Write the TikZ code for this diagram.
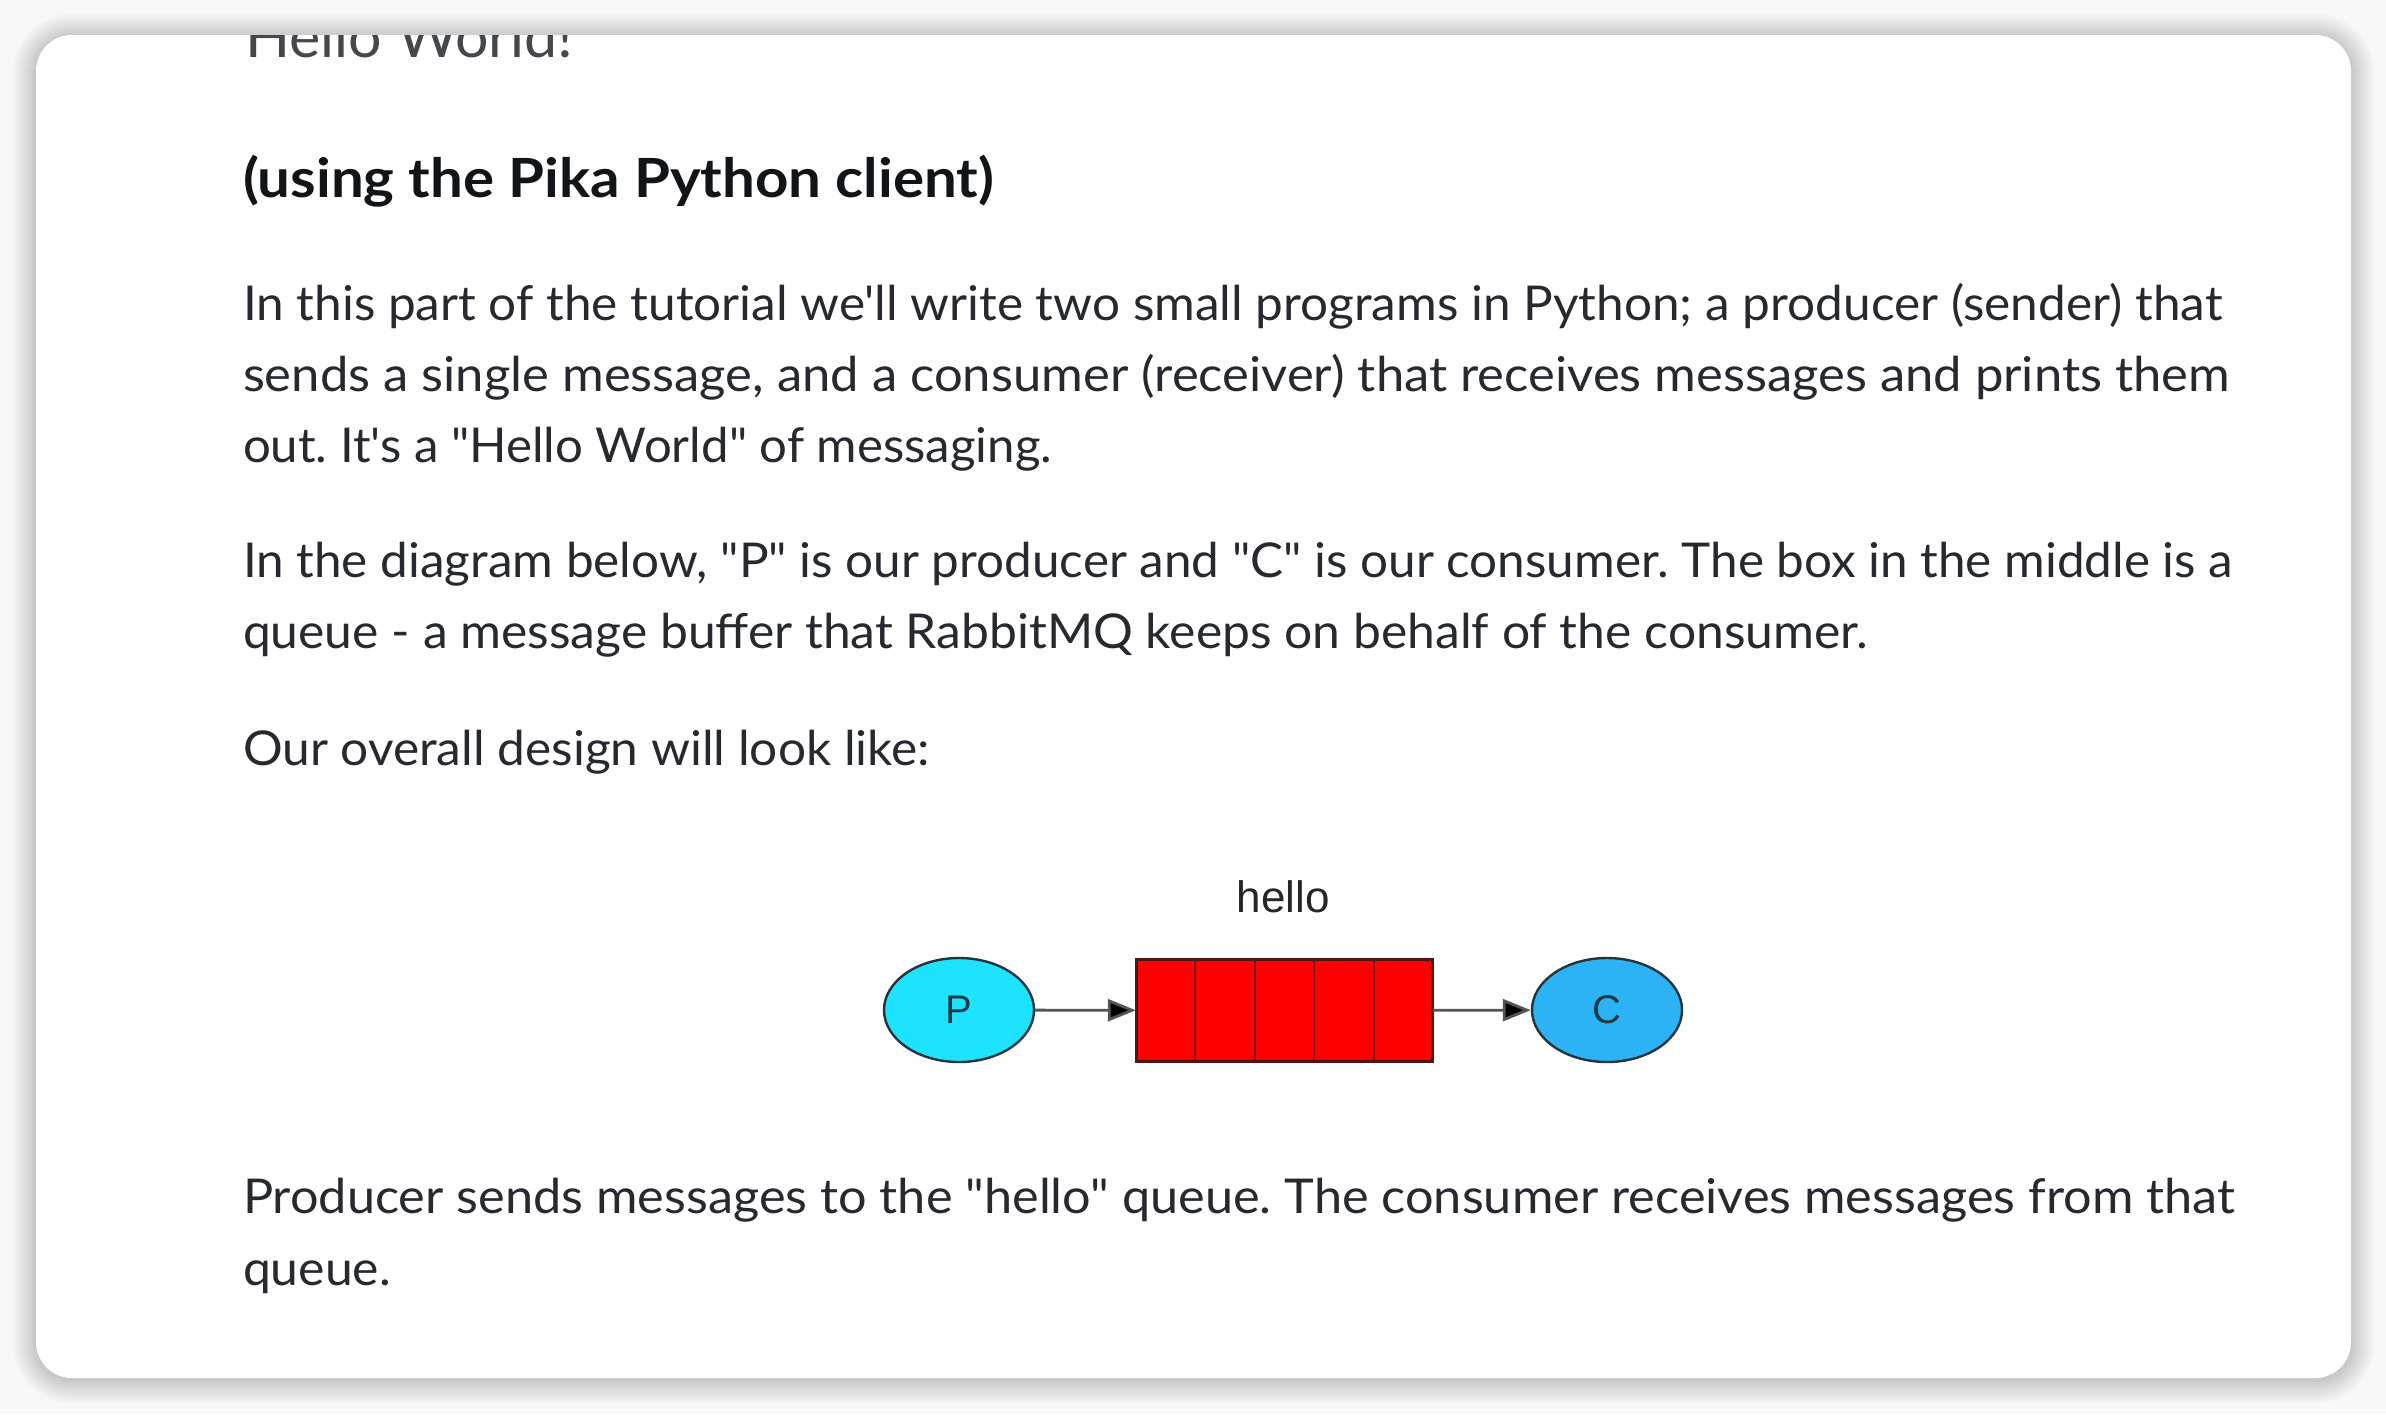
\documentclass[tikz,border=0pt]{standalone}
\usepackage{fontspec}
\setmainfont{Lato}[Ligatures=TeXOff]
\newfontfamily\arialf{Liberation Sans}
\usetikzlibrary{arrows.meta,shapes.geometric,calc}
\definecolor{pagebg}{HTML}{F8F8F8}
\definecolor{bodytext}{HTML}{262A2E}
\definecolor{headtext}{HTML}{121517}
\definecolor{titletext}{HTML}{44484C}
\definecolor{pfill}{HTML}{1EE3FE}
\definecolor{cfill}{HTML}{2BB3F5}
\definecolor{nodeborder}{HTML}{24343C}
\definecolor{qfill}{HTML}{FF0000}
\definecolor{qborder}{HTML}{4E1515}
\definecolor{qcell}{HTML}{7A0808}
\definecolor{edgegray}{HTML}{555555}
\definecolor{lettercol}{HTML}{1F3A46}
\newcommand\fitline[2]{\resizebox{#1}{\height}{#2}}
\frenchspacing
\begin{document}
\begin{tikzpicture}[x=0.5pt,y=-0.5pt,
  txt/.style={anchor=base west, inner sep=0pt, outer sep=0pt},
  bodyline/.style={txt, text=bodytext, font=\fontsize{24}{28}\selectfont},
  headline/.style={txt, text=headtext, font=\fontsize{27}{32}\selectfont\bfseries},
  titleline/.style={txt, text=titletext, font=\fontsize{29}{34}\selectfont},
  actor/.style={ellipse, draw=nodeborder, line width=1.2pt, minimum width=75pt, minimum height=52pt, inner sep=0pt, text=lettercol, font=\arialf\fontsize{20}{23}\selectfont},
  queuebox/.style={rectangle, draw=qborder, line width=1.1pt, fill=qfill, minimum width=147.5pt, minimum height=50.5pt, inner sep=0pt},
  celldiv/.style={draw=qcell, line width=1.1pt},
  edge/.style={draw=edgegray, line width=1.4pt, -{Triangle[length=14pt,width=11pt,fill=black]}},
  cardpath/.style={rounded corners=18pt}
]
\useasboundingbox (0,0) rectangle (2386,1414);
\fill[pagebg] (0,0) rectangle (2386,1414);
% shadow
\foreach \k in {1,...,24}{
  \draw[black, opacity=0.006, line width=\k pt, cardpath] (36,37) rectangle (2351,1380);
}
\fill[white, cardpath] (36,35) rectangle (2351,1378);
\begin{scope}
\clip[cardpath] (36,35) rectangle (2351,1378);
\node[titleline] (title) at (245,57) {\fitline{164pt}{Hello World!}};
\end{scope}
\node[headline] (head) at (243,197) {\fitline{375.5pt}{(using the Pika Python client)}};
\node[bodyline] (p1a) at (243,320) {\fitline{989.5pt}{In this part of the tutorial we'll write two small programs in Python; a producer (sender) that}};
\node[bodyline] (p1b) at (243,391) {\fitline{993.5pt}{sends a single message, and a consumer (receiver) that receives messages and prints them}};
\node[bodyline] (p1c) at (243,462) {\fitline{404.5pt}{out. It's a "Hello World" of messaging.}};
\node[bodyline] (p2a) at (243,577) {\fitline{995pt}{In the diagram below, "P" is our producer and "C" is our consumer. The box in the middle is a}};
\node[bodyline] (p2b) at (243,648) {\fitline{812.5pt}{queue - a message buffer that RabbitMQ keeps on behalf of the consumer.}};
\node[bodyline] (p3) at (243,765) {\fitline{343.5pt}{Our overall design will look like:}};
\node[bodyline] (p4a) at (243,1213) {\fitline{996pt}{Producer sends messages to the "hello" queue. The consumer receives messages from that}};
\node[bodyline] (p4b) at (243,1285) {\fitline{74pt}{queue.}};
% diagram
\node[actor, fill=pfill] (P) at (959,1010) {P};
\node[queuebox] (Q) at (1284.5,1010.5) {};
\node[actor, fill=cfill] (C) at (1607,1010) {C};
\foreach \i in {1,2,3,4}{
  \draw[celldiv] ($(Q.north west)!\i/5!(Q.north east)$) -- ($(Q.south west)!\i/5!(Q.south east)$);
}
\draw[qborder, line width=1.1pt] (Q.north west) rectangle (Q.south east);
\node[anchor=base, inner sep=0pt, font=\arialf\fontsize{22}{26}\selectfont, text=black!85] (hello) at (1283,912) {hello};
\draw[edge] (P) -- (Q);
\draw[edge] (Q) -- (C);
\end{tikzpicture}
\end{document}
